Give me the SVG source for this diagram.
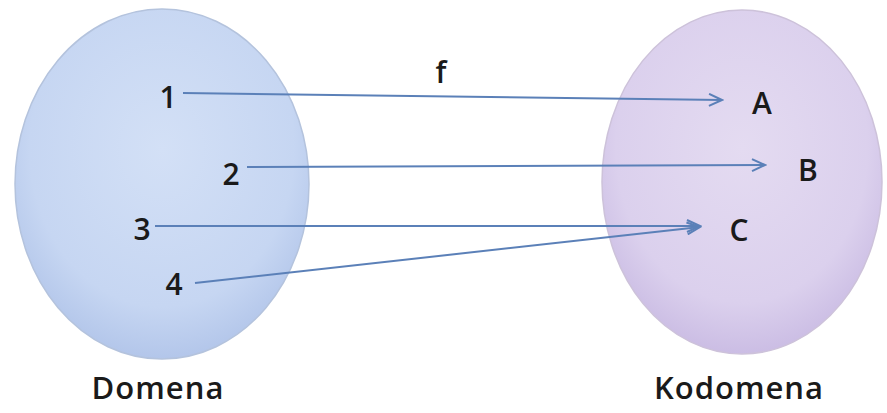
<svg xmlns="http://www.w3.org/2000/svg" width="887" height="413" viewBox="0 0 887 413">
<defs>
<radialGradient id="gL" cx="0.5" cy="0.4" r="0.6">
<stop offset="0" stop-color="#d3e0f6"/>
<stop offset="0.75" stop-color="#c6d6f2"/>
<stop offset="1" stop-color="#b3c6ea"/>
</radialGradient>
<radialGradient id="gR" cx="0.5" cy="0.4" r="0.6">
<stop offset="0" stop-color="#e4dbf1"/>
<stop offset="0.75" stop-color="#dbd0ed"/>
<stop offset="1" stop-color="#cbbde4"/>
</radialGradient>
<marker id="ah" markerWidth="16" markerHeight="14" refX="14" refY="7" orient="auto" markerUnits="userSpaceOnUse">
<path d="M1,1 L14,7 L1,13" fill="none" stroke="#5b80b8" stroke-width="2"/>
</marker>
</defs>
<style>
.t{font-family:"Open Sans","Liberation Sans",sans-serif;font-size:30px;fill:#1a1a1a;font-weight:600}
.lbl{font-family:"Open Sans","Liberation Sans",sans-serif;font-size:31px;fill:#1a1a1a;font-weight:600;letter-spacing:1px}
.c{stroke:#5b80b8;stroke-width:2;fill:none;marker-end:url(#ah)}
</style>
<rect width="887" height="413" fill="#ffffff"/>
<g id="domena">
<ellipse cx="162" cy="184" rx="147" ry="175" fill="url(#gL)" stroke="#b4c3dd" stroke-width="1.5"/>
<text class="t" x="168" y="108" text-anchor="middle">1</text>
<text class="t" x="231" y="185" text-anchor="middle">2</text>
<text class="t" x="142" y="240" text-anchor="middle">3</text>
<text class="t" x="174" y="295" text-anchor="middle">4</text>
<text class="lbl" x="158" y="399" text-anchor="middle">Domena</text>
</g>
<g id="kodomena">
<ellipse cx="742" cy="182" rx="140" ry="172" fill="url(#gR)" stroke="#cdc2da" stroke-width="1.5"/>
<text class="t" x="762" y="114" text-anchor="middle">A</text>
<text class="t" x="808" y="181" text-anchor="middle">B</text>
<text class="t" x="739" y="241" text-anchor="middle">C</text>
<text class="lbl" x="739" y="399" text-anchor="middle">Kodomena</text>
</g>
<g id="f">
<text class="t" x="441" y="83" text-anchor="middle">f</text>
</g>
<g id="connectors">
<line class="c" x1="183" y1="93" x2="722" y2="100"/>
<line class="c" x1="247" y1="167" x2="765" y2="165"/>
<line class="c" x1="155" y1="226" x2="700" y2="226"/>
<line class="c" x1="195" y1="283" x2="700" y2="227"/>
</g>
</svg>
